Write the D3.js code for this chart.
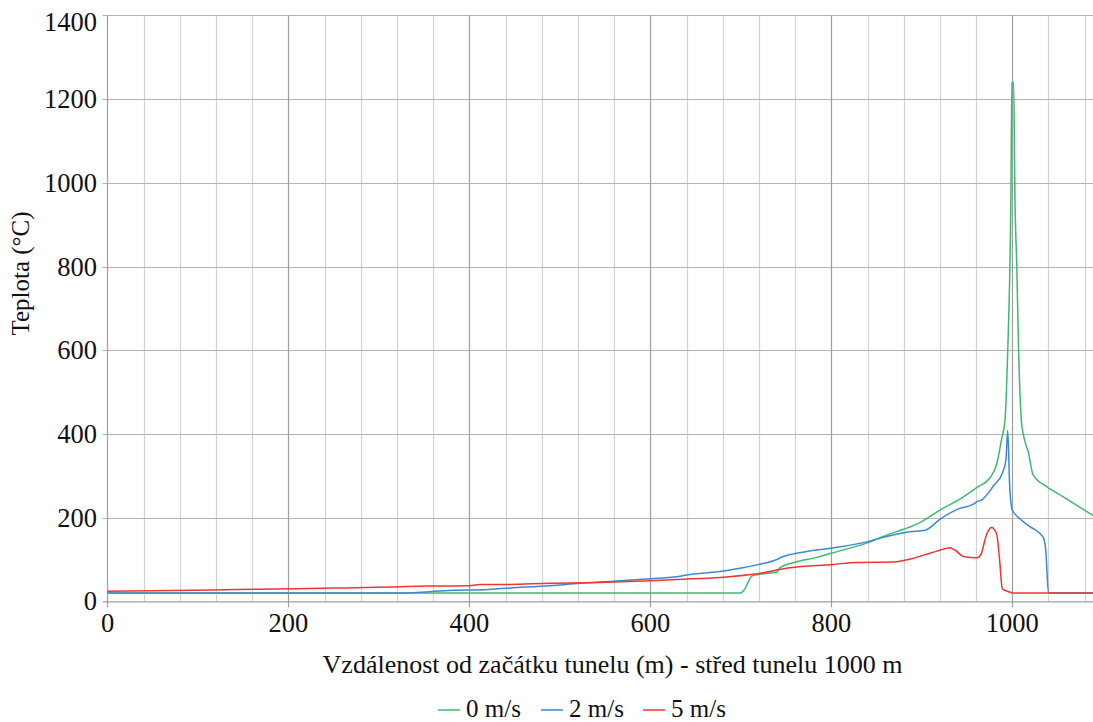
<!DOCTYPE html>
<html>
<head>
<meta charset="utf-8">
<script src="https://cdn.jsdelivr.net/npm/d3@7/dist/d3.min.js"></script>
<style>
  html, body { margin: 0; padding: 0; background: #fff; }
  svg { display: block; }
  text { font-family: "Liberation Serif", "Times New Roman", serif; }
</style>
</head>
<body>
<svg id="chart" width="1093" height="722"></svg>
<script>
// Distance from tunnel portal (m) and temperature (°C) for each ventilation speed
const dist0 = [0, 700, 703, 708, 712, 720, 740, 743, 758, 784, 800, 839, 861, 880, 898, 920, 942, 961, 975, 983, 988, 992, 995, 997.4, 998.5, 999.5, 1000.5, 1001.5, 1003, 1005, 1007, 1010, 1012, 1018, 1023, 1038, 1056, 1090];
const temp0 = [20, 20, 25, 45, 60, 64, 70, 80, 92, 105, 115, 139, 158, 172, 188, 218, 244, 272, 294, 330, 385, 433, 600, 800, 960, 1240, 1232, 1240, 960, 800, 600, 433, 401, 354, 302, 274, 250, 204];

const dist2 = [0, 330, 356, 397, 408, 445, 489, 522, 559, 600, 633, 640, 677, 699, 718, 740, 747, 773, 800, 839, 854, 887, 904, 920, 942, 957, 961, 966, 980, 989, 993, 995, 997, 1000, 1009, 1020, 1034, 1037, 1040, 1090];
const temp2 = [20, 20, 23, 27, 27, 32, 37, 43, 48, 54, 60, 63, 71, 79, 87, 100, 107, 119, 127, 142, 151, 166, 170, 196, 222, 232, 238, 242, 278, 306, 338, 408, 282, 218, 196, 178, 154, 123, 20, 20];

const dist5 = [0, 50, 143, 207, 264, 312, 356, 397, 412, 434, 489, 544, 600, 636, 677, 716, 754, 802, 828, 869, 891, 909, 920, 926, 931, 937, 946, 961, 966, 969, 972, 975, 977, 980, 983, 986, 989, 996, 1001, 1090];
const temp5 = [24, 25, 28, 30, 32, 34, 36.5, 37, 40, 40, 43, 45, 49, 52.5, 57, 65, 80, 88, 93, 94, 103, 115, 122, 126, 128, 122, 107, 104, 115, 140, 162, 173, 177, 172, 158, 99, 30, 23, 20, 20];

const seriesNames = ["0 m/s", "2 m/s", "5 m/s"];
const seriesColors = ["#3dba6f", "#3b8ad0", "#f03535"];

const yTicks = [0, 200, 400, 600, 800, 1000, 1200, 1400];
const xTicks = [0, 200, 400, 600, 800, 1000];

const xTitle = "Vzdálenost od začátku tunelu (m) - střed tunelu 1000 m";
const yTitle = "Teplota (°C)";

const svg = d3.select("#chart");
const W = 1093, H = 722;

const x = d3.scaleLinear().domain([0, 1090]).range([107.5, 1093.7]);
const y = d3.scaleLinear().domain([0, 1400]).range([601.3, 15.4]);

// Minor vertical grid every 40 m, major every 200 m
const minor = d3.range(40, 1091, 40).filter(v => v % 200 !== 0);
svg.append("g").selectAll("line").data(minor).join("line")
  .attr("x1", d => Math.round(x(d)) + 0.5).attr("x2", d => Math.round(x(d)) + 0.5)
  .attr("y1", y(1400)).attr("y2", y(0))
  .attr("stroke", "#d2d2d2").attr("stroke-width", 1.2);

// Horizontal grid
svg.append("g").selectAll("line").data(yTicks.filter(v => v > 0)).join("line")
  .attr("x1", x(0) - 5).attr("x2", W)
  .attr("y1", d => Math.round(y(d)) + 0.5).attr("y2", d => Math.round(y(d)) + 0.5)
  .attr("stroke", "#b4b4b4").attr("stroke-width", 1.2);

svg.append("g").selectAll("line").data(xTicks.filter(v => v > 0)).join("line")
  .attr("x1", d => Math.round(x(d)) + 0.5).attr("x2", d => Math.round(x(d)) + 0.5)
  .attr("y1", y(1400)).attr("y2", y(0) + 6)
  .attr("stroke", "#9e9e9e").attr("stroke-width", 1.2);

// Axis lines
svg.append("line")
  .attr("x1", x(0)).attr("x2", x(0)).attr("y1", y(1400)).attr("y2", y(0) + 6)
  .attr("stroke", "#a0a0a0").attr("stroke-width", 1.2);
svg.append("line")
  .attr("x1", x(0) - 5).attr("x2", W).attr("y1", y(0) + 0.5).attr("y2", y(0) + 0.5)
  .attr("stroke", "#a0a0a0").attr("stroke-width", 1.2);

// Tick labels
svg.append("g").selectAll("text").data(yTicks).join("text")
  .attr("x", 97).attr("y", d => Math.max(y(d), 21.5))
  .attr("dy", "0.34em")
  .attr("text-anchor", "end").attr("font-size", 26.5).attr("fill", "#111")
  .text(d => d);

svg.append("g").selectAll("text").data(xTicks).join("text")
  .attr("x", d => x(d)).attr("y", 632)
  .attr("text-anchor", "middle").attr("font-size", 26.5).attr("fill", "#111")
  .text(d => d);

// Axis titles
svg.append("text")
  .attr("x", 612.5).attr("y", 673)
  .attr("text-anchor", "middle").attr("font-size", 26).attr("fill", "#111")
  .text(xTitle);

svg.append("text")
  .attr("transform", "translate(29,273.5) rotate(-90)")
  .attr("text-anchor", "middle").attr("font-size", 25).attr("fill", "#111")
  .text(yTitle);

// Temperature curves
const line = d3.line().x(d => x(d[0])).y(d => y(d[1])).curve(d3.curveMonotoneX);
const series = [
  d3.zip(dist0, temp0),
  d3.zip(dist2, temp2),
  d3.zip(dist5, temp5)
];
svg.append("g").selectAll("path").data(series).join("path")
  .attr("d", line)
  .attr("fill", "none")
  .attr("stroke", (d, i) => seriesColors[i])
  .attr("stroke-width", 1.5)
  .attr("stroke-linejoin", "round");

// Legend
const legendX = [438, 541, 643];
const lg = svg.append("g").selectAll("g").data(seriesNames).join("g")
  .attr("transform", (d, i) => `translate(${legendX[i]},710)`);
lg.append("line").attr("x1", 0).attr("x2", 22).attr("y1", 0).attr("y2", 0)
  .attr("stroke", (d, i) => seriesColors[i]).attr("stroke-width", 1.5);
lg.append("text").attr("x", 28).attr("y", 7).attr("font-size", 25).attr("fill", "#111").text(d => d);
</script>
</body>
</html>
